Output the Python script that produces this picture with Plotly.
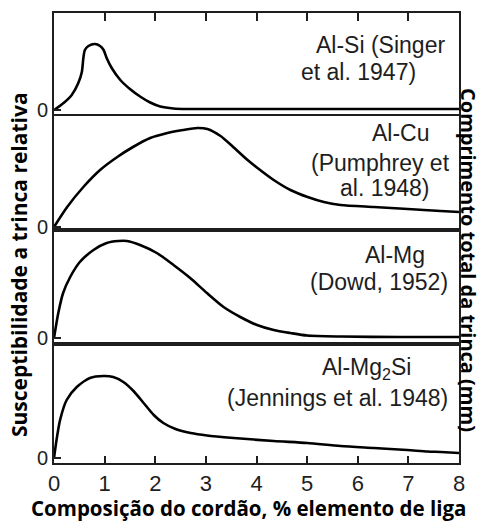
import plotly.graph_objects as go

# ---- data ----
x_alsi = [0, 0.19, 0.35, 0.48, 0.55, 0.58, 0.61, 0.68, 0.81, 0.91, 0.98, 1.04, 1.14, 1.31, 1.50, 1.70, 1.90, 2.10, 2.36, 2.63, 4.0, 6.0, 8.0]
y_alsi = [0, 7, 15, 27, 38, 52, 60, 64, 66, 64, 60, 52, 42, 30, 21, 13.5, 7.5, 3.5, 1.5, 1, 1, 1, 1]

x_alcu = [0, 0.26, 0.58, 0.91, 1.25, 1.56, 1.90, 2.24, 2.55, 2.83, 3.03, 3.29, 3.54, 3.80, 4.02, 4.34, 4.67, 5.01, 5.33, 5.66, 6.32, 6.99, 7.64, 8.0]
y_alcu = [0, 20, 40, 57, 70, 80, 89, 94, 97, 99, 98, 91, 80, 68, 59, 47, 37, 30, 25, 22, 20, 18, 16, 15]

x_almg = [0, 0.085, 0.18, 0.32, 0.51, 0.78, 1.04, 1.27, 1.44, 1.70, 2.03, 2.36, 2.69, 3.02, 3.35, 3.68, 4.01, 4.34, 4.67, 5.0, 5.66, 6.85, 8.0]
y_almg = [0, 25, 45, 61, 76, 88, 95, 97, 97, 93, 85, 73, 60, 45, 31, 21, 13, 8, 5, 2.5, 1.5, 1, 1]

x_almgsi = [0, 0.05, 0.12, 0.25, 0.45, 0.71, 0.98, 1.17, 1.37, 1.57, 1.77, 1.97, 2.16, 2.40, 2.70, 3.02, 3.55, 4.34, 5.0, 5.66, 6.32, 6.98, 7.38, 7.64, 8.0]
y_almgsi = [0, 18, 38, 58, 71, 80, 82, 81, 76, 67, 55, 43, 35, 29, 25, 22.5, 20, 17, 15, 12, 10, 8, 6.5, 6, 5]

x_ticks = [0, 1, 2, 3, 4, 5, 6, 7, 8]
x_ticktext = ["0", "1", "2", "3", "4", "5", "6", "7", "8"]

labels = [
    ["Al-Si (Singer", "et al. 1947)"],
    ["Al-Cu", "(Pumphrey et", "al. 1948)"],
    ["Al-Mg", "(Dowd, 1952)"],
    ["Al-Mg<sub>2</sub>Si", "(Jennings et al. 1948)"],
]

# ---- layout geometry (pixels) ----
W, H = 482, 522
L, R, T, B = 54, 459, 13, 463
PH = B - T

def py(p):
    return (B - p) / PH

def px(p):
    return (p - L) / (R - L)

INK = "#1e1e1e"
panels = [
    dict(x=x_alsi, y=y_alsi, dom=(114, 13), rng=[-4, 97]),
    dict(x=x_alcu, y=y_alcu, dom=(230, 116), rng=[-3, 111]),
    dict(x=x_almg, y=y_almg, dom=(344, 230), rng=[-6, 108]),
    dict(x=x_almgsi, y=y_almgsi, dom=(463, 344), rng=[-5, 114]),
]

fig = go.Figure()
layout = dict(
    width=W, height=H,
    margin=dict(l=L, r=W - R, t=T, b=H - B, pad=0),
    paper_bgcolor="white", plot_bgcolor="white",
    showlegend=False,
)

for i, p in enumerate(panels):
    k = "" if i == 0 else str(i + 1)
    fig.add_trace(go.Scatter(x=p["x"], y=p["y"], mode="lines",
                             line=dict(color="black", width=2.6, shape="spline", smoothing=0.7),
                             xaxis="x" + k, yaxis="y" + k, hoverinfo="skip"))
    xa = dict(domain=[0, 1], range=[0, 8], anchor="y" + k, showgrid=False, zeroline=False,
              showline=True, mirror=True, linecolor=INK, linewidth=2,
              tickvals=x_ticks, ticktext=x_ticktext, ticks="", showticklabels=False,
              tickcolor=INK, tickwidth=2)
    if i == 0:
        xa.update(side="top", ticks="inside", ticklen=8)
    if i == 3:
        xa.update(side="bottom", ticks="inside", ticklen=7, showticklabels=True,
                  tickfont=dict(family="Liberation Sans", size=22, color=INK))
    ya = dict(domain=[py(p["dom"][0]), py(p["dom"][1])], range=p["rng"], anchor="x" + k,
              showgrid=False, zeroline=False, showline=True, mirror=True, linecolor=INK, linewidth=2,
              tickvals=[0], ticktext=["0"], ticks="inside", ticklen=7, tickwidth=2, tickcolor=INK,
              tickfont=dict(family="Liberation Sans", size=20, color=INK))
    layout["xaxis" + k] = xa
    layout["yaxis" + k] = ya

fig.update_layout(**layout)

# label positions: (right edge px, center y px) per line
label_pos = [
    [(447, 45), (418, 72)],
    [(432, 133), (452, 163), (432, 188)],
    [(427, 255), (450, 282)],
    [(413, 368), (450, 398)],
]
for lines, poss in zip(labels, label_pos):
    for txt, (xr, yc) in zip(lines, poss):
        fig.add_annotation(text=txt, xref="paper", yref="paper", x=px(xr), y=py(yc),
                           xanchor="right", yanchor="middle", showarrow=False,
                           font=dict(family="Liberation Sans", size=23, color=INK))

bold = "Open Sans"
fig.add_annotation(text="<b>Composição do cordão, % elemento de liga</b>", xref="paper", yref="paper",
                   x=px(248), y=py(508), xanchor="center", yanchor="middle", showarrow=False,
                   font=dict(family=bold, size=20.5, color="black"))
fig.add_annotation(text="<b>Susceptibilidade a trinca relativa</b>", xref="paper", yref="paper",
                   x=px(19), y=py(265), xanchor="center", yanchor="middle", showarrow=False,
                   textangle=-90, font=dict(family=bold, size=21, color="black"))
fig.add_annotation(text="<b>Comprimento total da trinca (mm)</b>", xref="paper", yref="paper",
                   x=px(469), y=py(260), xanchor="center", yanchor="middle", showarrow=False,
                   textangle=90, font=dict(family=bold, size=20, color="black"))

fig.write_html("out.html")
